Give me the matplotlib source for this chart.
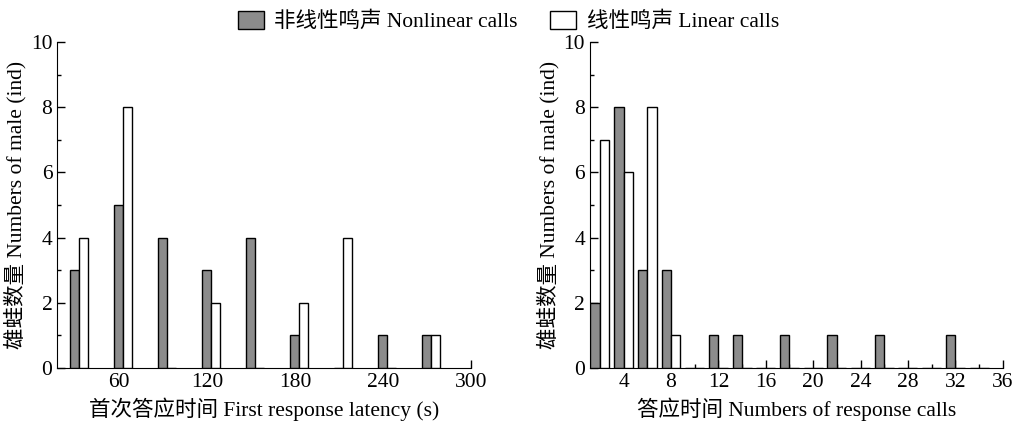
import matplotlib

matplotlib.use("Agg")
import matplotlib.pyplot as plt
from matplotlib.patches import Patch
from matplotlib.ticker import MultipleLocator

plt.rcParams["font.family"] = ["Liberation Serif", "Noto Sans CJK SC"]

# left: first response latency (s), bins every 30 s
lat_bins = [30, 60, 90, 120, 150, 180, 210, 240, 270]
lat_nonlinear = [3, 5, 4, 3, 4, 1, 0, 1, 1]
lat_linear = [4, 8, 0, 2, 0, 2, 4, 0, 1]

# right: numbers of response calls, bins every 2
calls_bins = [2, 4, 6, 8, 10, 12, 14, 16, 18, 20, 22, 24, 26, 28, 30, 32, 34]
calls_nonlinear = [2, 8, 3, 3, 0, 1, 1, 0, 1, 0, 1, 0, 1, 0, 0, 1, 0]
calls_linear = [7, 6, 8, 1, 0, 0, 0, 0, 0, 0, 0, 0, 0, 0, 0, 0, 0]

GRAY = "#8c8c8c"
FS = 15.5

fig = plt.figure(figsize=(10.17, 4.32), dpi=100)
ax1 = fig.add_axes([0.0563, 0.148, 0.4067, 0.755])
ax2 = fig.add_axes([0.580, 0.148, 0.406, 0.755])


def style(ax):
    for s in ("top", "right"):
        ax.spines[s].set_visible(False)
    ax.set_ylim(0, 10)
    ax.yaxis.set_major_locator(MultipleLocator(2))
    ax.yaxis.set_minor_locator(MultipleLocator(1))
    ax.tick_params(which="both", direction="in", labelsize=FS, width=1)
    ax.tick_params(which="major", length=6)
    ax.tick_params(which="minor", length=3)
    ax.set_ylabel("雄蛙数量 Numbers of male (ind)", fontsize=FS, labelpad=3)


# nonlinear centred on the bin, linear just to its right
w1 = 6
ax1.bar([b for b in lat_bins], lat_nonlinear, width=w1, color=GRAY,
        edgecolor="black", lw=1, zorder=3)
ax1.bar([b + w1 for b in lat_bins], lat_linear, width=w1, color="white",
        edgecolor="black", lw=1, zorder=3)
style(ax1)
ax1.set_xlim(18, 300)
ax1.set_xticks([60, 120, 180, 240, 300])
ax1.set_xlabel("首次答应时间 First response latency (s)", fontsize=FS, labelpad=4)

w2 = 0.8
ax2.bar([b - w2 / 2 for b in calls_bins], calls_nonlinear, width=w2, color=GRAY,
        edgecolor="black", lw=1, zorder=3)
ax2.bar([b + w2 / 2 for b in calls_bins], calls_linear, width=w2, color="white",
        edgecolor="black", lw=1, zorder=3)
style(ax2)
ax2.set_xlim(1.15, 36)
ax2.xaxis.set_major_locator(MultipleLocator(4))
ax2.xaxis.set_minor_locator(MultipleLocator(2))
ax2.set_xlabel("答应时间 Numbers of response calls", fontsize=FS, labelpad=4)

handles = [
    Patch(facecolor=GRAY, edgecolor="black", lw=1, label="非线性鸣声 Nonlinear calls"),
    Patch(facecolor="white", edgecolor="black", lw=1, label="线性鸣声 Linear calls"),
]
fig.legend(handles=handles, loc="upper center", bbox_to_anchor=(0.5, 1.02),
           ncol=2, frameon=False, fontsize=FS, handlelength=1.2, handleheight=0.9,
           columnspacing=1.5, handletextpad=0.5)

fig.savefig("out.png", dpi=100)
